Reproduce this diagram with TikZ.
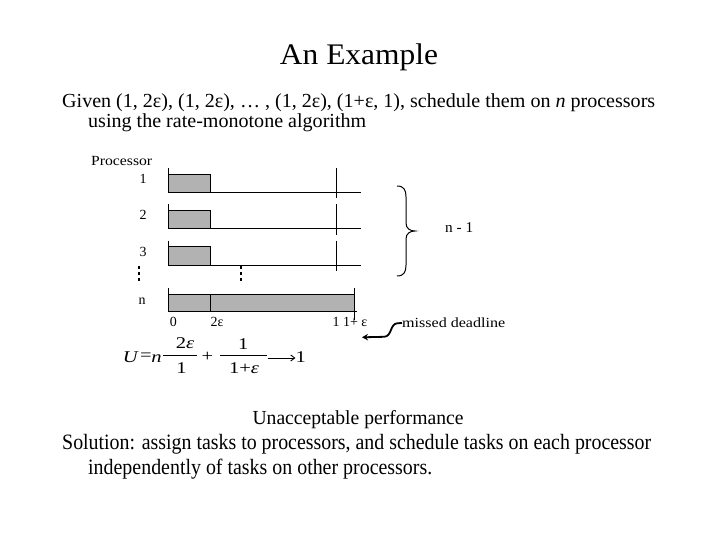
\documentclass[tikz,border=0pt]{standalone}
\usepackage{graphicx}
\usepackage{fontspec}
\setmainfont{Liberation Serif}
\usetikzlibrary{arrows.meta}
\definecolor{boxgray}{RGB}{178,178,178}
\newcommand{\fitw}[2]{\resizebox{#1bp}{\height}{#2}}
\newcommand{\wideglyph}[1]{\scalebox{1.25}[1]{#1}}
\begin{document}
\begin{tikzpicture}[x=1bp,y=-1bp,
  txt/.style={inner sep=0pt, font=\fontsize{20}{24}\selectfont},
  txtb/.style={inner sep=0pt, font=\fontsize{22}{26}\selectfont},
  lbl/.style={inner sep=0pt, font=\fontsize{14}{17}\selectfont},
  fm/.style={inner sep=0pt, font=\fontsize{16.5}{20}\selectfont},
  tl/.style={line width=1bp, draw=black},
  busy/.style={fill=boxgray, draw=black, line width=1bp},
  fbar/.style={line width=0.9bp}]
\useasboundingbox (0,0) rectangle (720,540);

% title and statement
\node[anchor=base, inner sep=0pt, font=\fontsize{30}{36}\selectfont] (title) at (359,65) {\fitw{158}{An Example}};
\node[anchor=base west, txt] (l1) at (62,107.5) {\fitw{593}{Given (1, 2ε), (1, 2ε), … , (1, 2ε), (1+ε, 1), schedule them on \textit{n} processors}};
\node[anchor=base west, txt] (l2) at (88,128) {\fitw{278}{using the rate-monotone algorithm}};

% processor labels
\node[anchor=base west, lbl] (proc) at (91,165.7) {\fitw{61}{Processor}};
\node[anchor=base, lbl] (p1) at (143,183.5) {1};
\node[anchor=base, lbl] (p2) at (143,220) {2};
\node[anchor=base, lbl] (p3) at (143,256.7) {3};
\node[anchor=base, lbl] (pn) at (142,304) {n};

% rows 1-3
\foreach \t in {168,204.3,240.7} {
  \draw[busy] (168,\t+6.3) rectangle (210,\t+24.5);
  \draw[tl] (168,\t) -- (168,\t+24.5) -- (361,\t+24.5);
  \draw[tl] (336,\t) -- (336,\t+30.5);
}
% row n
\draw[busy] (168,294.3) rectangle (354,311.7);
\draw[tl] (210,294.3) -- (210,311.7);
\draw[tl] (168,288.3) -- (168,311.7) -- (357,311.7);
\draw[tl] (354,288.3) -- (354,320);

% vertical dots
\foreach \x in {139,241} {
  \foreach \y in {267.3,273.3,279.3} {
    \fill[black] (\x-1.4,\y-1.6) rectangle (\x+1.4,\y+1.6);
  }
}

% axis labels
\node[anchor=base, lbl] (t0) at (173.3,326.7) {0};
\node[anchor=base west, lbl] (t2e) at (210.5,326.7) {2ε};
\node[anchor=base west, lbl] (t1) at (332.5,326.7) {1 1+ ε};

% brace
\coordinate (bt) at (397,186);
\coordinate (bb) at (397,276);
\draw[line width=1bp] (bt) .. controls (404,186) and (406,190) .. (406,197) -- (406,223)
  .. controls (406,228.5) and (410,231) .. (415,231)
  .. controls (410,231) and (406,233.5) .. (406,239) -- (406,265)
  .. controls (406,272) and (404,276) .. (bb);
\node[anchor=base west, lbl, font=\fontsize{15}{18}\selectfont] (nm1) at (445,232.3) {\fitw{28}{n - 1}};

% missed deadline
\node[anchor=base west, lbl] (md) at (402,327.7) {\fitw{103}{missed deadline}};
\draw[line width=1.8bp, -{Stealth[length=6bp,width=6.5bp]}] (md.west |- 0,323) -- (397,323.3)
  .. controls (390,324) and (392,336.5) .. (384,336.8) -- (362,337.3);

% formula
\node[anchor=base, fm] (fU) at (130.8,362.3) {\wideglyph{\textit{U}}};
\node[anchor=center, fm] (feq) at (146,357) {\wideglyph{=}};
\node[anchor=base, fm] (fn) at (156.5,362.3) {\wideglyph{\textit{n}}};
\coordinate (fb1l) at (163,355.7);
\coordinate (fb1r) at (197.3,355.7);
\draw[fbar] (fb1l) -- (fb1r);
\node[anchor=base, fm] (fnum1) at (185,348.5) {\wideglyph{2\textit{ε}}};
\node[anchor=base, fm] (fden1) at (181.5,373.3) {\wideglyph{1}};
\node[anchor=center, fm] (fplus) at (207.5,356.5) {\wideglyph{+}};
\coordinate (fb2l) at (220,355.7);
\coordinate (fb2r) at (266.7,355.7);
\draw[fbar] (fb2l) -- (fb2r);
\node[anchor=base, fm] (fnum2) at (243.3,349.5) {\wideglyph{1}};
\node[anchor=base, fm] (fden2) at (244,373.3) {\wideglyph{1+\textit{ε}}};
\node[anchor=base, fm] (fone) at (300.8,362.3) {\wideglyph{1}};
\coordinate (farr) at (267.5,358);
\draw[line width=0.9bp, -{Straight Barb[length=4bp,width=6bp]}] (farr) -- (fone.west |- farr);

% conclusion
\node[anchor=base, txt] (ua) at (358,424) {\fitw{211}{Unacceptable performance}};
\node[anchor=base west, txtb] (sol) at (62,449) {\fitw{589}{Solution: assign tasks to processors, and schedule tasks on each processor}};
\node[anchor=base west, txtb] (sol2) at (88,474) {\fitw{344}{independently of tasks on other processors.}};
\end{tikzpicture}
\end{document}
